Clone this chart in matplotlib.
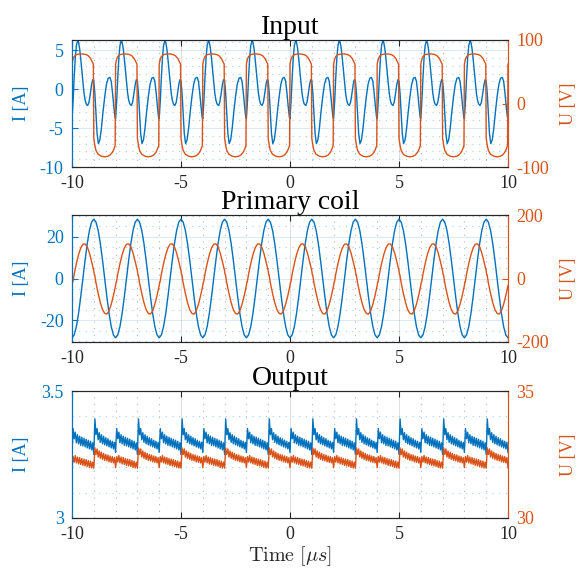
"""Input / primary coil / output waveforms, MATLAB yyaxis style."""
import numpy as np
import matplotlib
matplotlib.use('Agg')
import matplotlib.pyplot as plt
from matplotlib.ticker import MultipleLocator

BLUE = '#0072BD'
ORANGE = '#D95319'
DARK = '#262626'

T_START = -10.0
PERIOD = 2.0   # us
N_PERIODS = 10

# one switching period, phase in us (U of the input rises at phase 0)
IN_I_PHASE = [0.00, 0.05, 0.10, 0.15, 0.20, 0.26, 0.30, 0.35, 0.40, 0.45, 0.50, 0.55,
              0.60, 0.65, 0.72, 0.78, 0.84, 0.90, 0.95, 1.00, 1.05, 1.10, 1.15, 1.21,
              1.28, 1.35, 1.42, 1.50, 1.58, 1.66, 1.74, 1.80, 1.86, 1.92, 1.97]
IN_I = [-3.8, -1.5, 1.5, 4.0, 5.6, 6.2, 6.0, 5.2, 3.9, 2.4, 0.8, -0.5,
        -1.4, -1.9, -2.1, -1.7, -0.6, 0.6, 1.2, 1.0, -0.6, -3.2, -5.7, -7.0,
        -6.5, -5.0, -3.0, -1.0, 0.6, 1.4, 1.5, 1.0, -0.5, -2.3, -3.6]
IN_U_PHASE = [0.00, 0.05, 0.10, 0.20, 0.35, 0.50, 0.65, 0.75, 0.85, 0.92, 0.98,
              1.00, 1.05, 1.10, 1.20, 1.35, 1.50, 1.65, 1.75, 1.85, 1.92, 1.98]
IN_U = [62, 70, 74, 77, 78, 78, 77, 75, 71, 66, 62,
        -55, -66, -74, -80, -83, -84, -83, -81, -77, -72, -66]

PR_I_PHASE = [0.0, 0.1, 0.2, 0.3, 0.4, 0.5, 0.6, 0.7, 0.8, 0.9,
              1.0, 1.1, 1.2, 1.3, 1.4, 1.5, 1.6, 1.7, 1.8, 1.9]
PR_I = [-28.5, -27.1, -23.1, -16.8, -8.8, 0.0, 8.8, 16.8, 23.1, 27.1,
        28.5, 27.1, 23.1, 16.8, 8.8, 0.0, -8.8, -16.8, -23.1, -27.1]
PR_U_PHASE = [0.0, 0.02, 0.04, 0.1, 0.2, 0.3, 0.4, 0.5, 0.6, 0.7, 0.8, 0.9,
              1.0, 1.02, 1.04, 1.1, 1.2, 1.3, 1.4, 1.5, 1.6, 1.7, 1.8, 1.9]
PR_U = [-22, -12, -11, 14, 47, 75, 96, 108, 109, 100, 80, 53,
        24, 13, 12, -14, -47, -76, -98, -110, -112, -102, -81, -54]

OUT_PHASE = [round(0.05 * k, 2) for k in range(40)]
OUT_I = [3.258, 3.352, 3.312, 3.338, 3.296, 3.328, 3.292, 3.322, 3.286, 3.318,
         3.284, 3.314, 3.280, 3.310, 3.276, 3.306, 3.272, 3.302, 3.268, 3.296,
         3.250, 3.390, 3.328, 3.352, 3.308, 3.336, 3.298, 3.328, 3.292, 3.322,
         3.288, 3.316, 3.284, 3.312, 3.280, 3.306, 3.276, 3.302, 3.272, 3.298]
OUT_U = [31.98, 32.42, 32.20, 32.46, 32.17, 32.40, 32.13, 32.38, 32.11, 32.34,
         32.07, 32.32, 32.05, 32.30, 32.03, 32.26, 31.99, 32.24, 31.97, 32.20,
         31.96, 32.76, 32.50, 32.72, 32.40, 32.64, 32.35, 32.59, 32.31, 32.54,
         32.27, 32.50, 32.25, 32.48, 32.21, 32.44, 32.19, 32.42, 32.17, 32.38]


def repeat_period(phase, values):
    phase = np.asarray(phase, dtype=float)
    t = np.concatenate([T_START + k * PERIOD + phase for k in range(N_PERIODS)])
    y = np.tile(np.asarray(values, dtype=float), N_PERIODS)
    t = np.append(t, T_START + N_PERIODS * PERIOD)
    y = np.append(y, values[0])
    return t, y


plt.rcParams['font.family'] = ['Liberation Serif', 'DejaVu Serif']
plt.rcParams['mathtext.fontset'] = 'cm'
plt.rcParams['axes.unicode_minus'] = False

fig = plt.figure(figsize=(5.82, 5.76), dpi=100)
W = 436 / 582
H = 127 / 576
L = 72 / 582
bottoms = [1 - 167 / 576, 1 - 342 / 576, 1 - 518 / 576]

panels = [
    ('Input', IN_I_PHASE, IN_I, IN_U_PHASE, IN_U,
     (-10, 6.3), [-10, -5, 0, 5], 1, (-100, 100), [-100, 0, 100]),
    ('Primary coil', PR_I_PHASE, PR_I, PR_U_PHASE, PR_U,
     (-30.5, 30.5), [-20, 0, 20], 5, (-200, 200), [-200, 0, 200]),
    ('Output', OUT_PHASE, OUT_I, OUT_PHASE, OUT_U,
     (3, 3.5), [3, 3.5], 0.1, (30, 35), [30, 35]),
]

for i, (title, ph_i, v_i, ph_u, v_u, ylim_l, yt_l, minor_l, ylim_r, yt_r) in enumerate(panels):
    ax = fig.add_axes([L, bottoms[i], W, H])
    ax2 = ax.twinx()

    t, y = repeat_period(ph_i, v_i)
    ax.plot(t, y, color=BLUE, lw=1.0)
    t, y = repeat_period(ph_u, v_u)
    ax2.plot(t, y, color=ORANGE, lw=1.0)

    ax.set_xlim(-10, 10)
    ax.set_xticks([-10, -5, 0, 5, 10])
    ax.set_ylim(*ylim_l)
    ax.set_yticks(yt_l)
    ax2.set_ylim(*ylim_r)
    ax2.set_yticks(yt_r)
    if title == 'Output':
        ax.set_yticklabels(['3', '3.5'])
    ax.xaxis.set_minor_locator(MultipleLocator(1))
    ax.yaxis.set_minor_locator(MultipleLocator(minor_l))

    ax.set_axisbelow(True)
    ax.grid(which='major', axis='x', color=DARK, alpha=0.15, lw=0.7)
    ax.grid(which='major', axis='y', color=BLUE, alpha=0.15, lw=0.7)
    ax.grid(which='minor', axis='x', color=DARK, alpha=0.35, lw=0.8, ls=(0, (1, 5)))
    ax.grid(which='minor', axis='y', color=BLUE, alpha=0.35, lw=0.8, ls=(0, (1, 5)))

    ax.tick_params(which='minor', length=0)
    ax.tick_params(axis='x', which='major', direction='in', top=True, length=4,
                   colors=DARK, labelsize=13, pad=5.5)
    ax.tick_params(axis='y', which='major', direction='in', length=4,
                   colors=BLUE, labelsize=13, pad=6)
    ax2.tick_params(axis='y', which='major', direction='in', length=4,
                    colors=ORANGE, labelsize=13, pad=6)

    for a in (ax, ax2):
        a.spines['left'].set_color(BLUE)
        a.spines['right'].set_color(ORANGE)
        a.spines['top'].set_color(DARK)
        a.spines['bottom'].set_color(DARK)
        for s in a.spines.values():
            s.set_linewidth(0.8)

    ax.set_ylabel('I [A]', color=BLUE, fontsize=13)
    ax.yaxis.label.set_va('center')
    ax.yaxis.set_label_coords(-0.115, 0.5)
    ax2.set_ylabel('U [V]', color=ORANGE, fontsize=13, rotation=90)
    ax2.yaxis.label.set_va('center')
    ax2.yaxis.set_label_coords(1.138, 0.5)

    ax.set_title(title, fontsize=20, color='black', pad=1.5)

    if title == 'Output':
        ax.set_xlabel(r'$\mathrm{Time}\ [\mu s]$', fontsize=14.5, color=DARK, labelpad=1)

fig.savefig('out.png', dpi=100)
